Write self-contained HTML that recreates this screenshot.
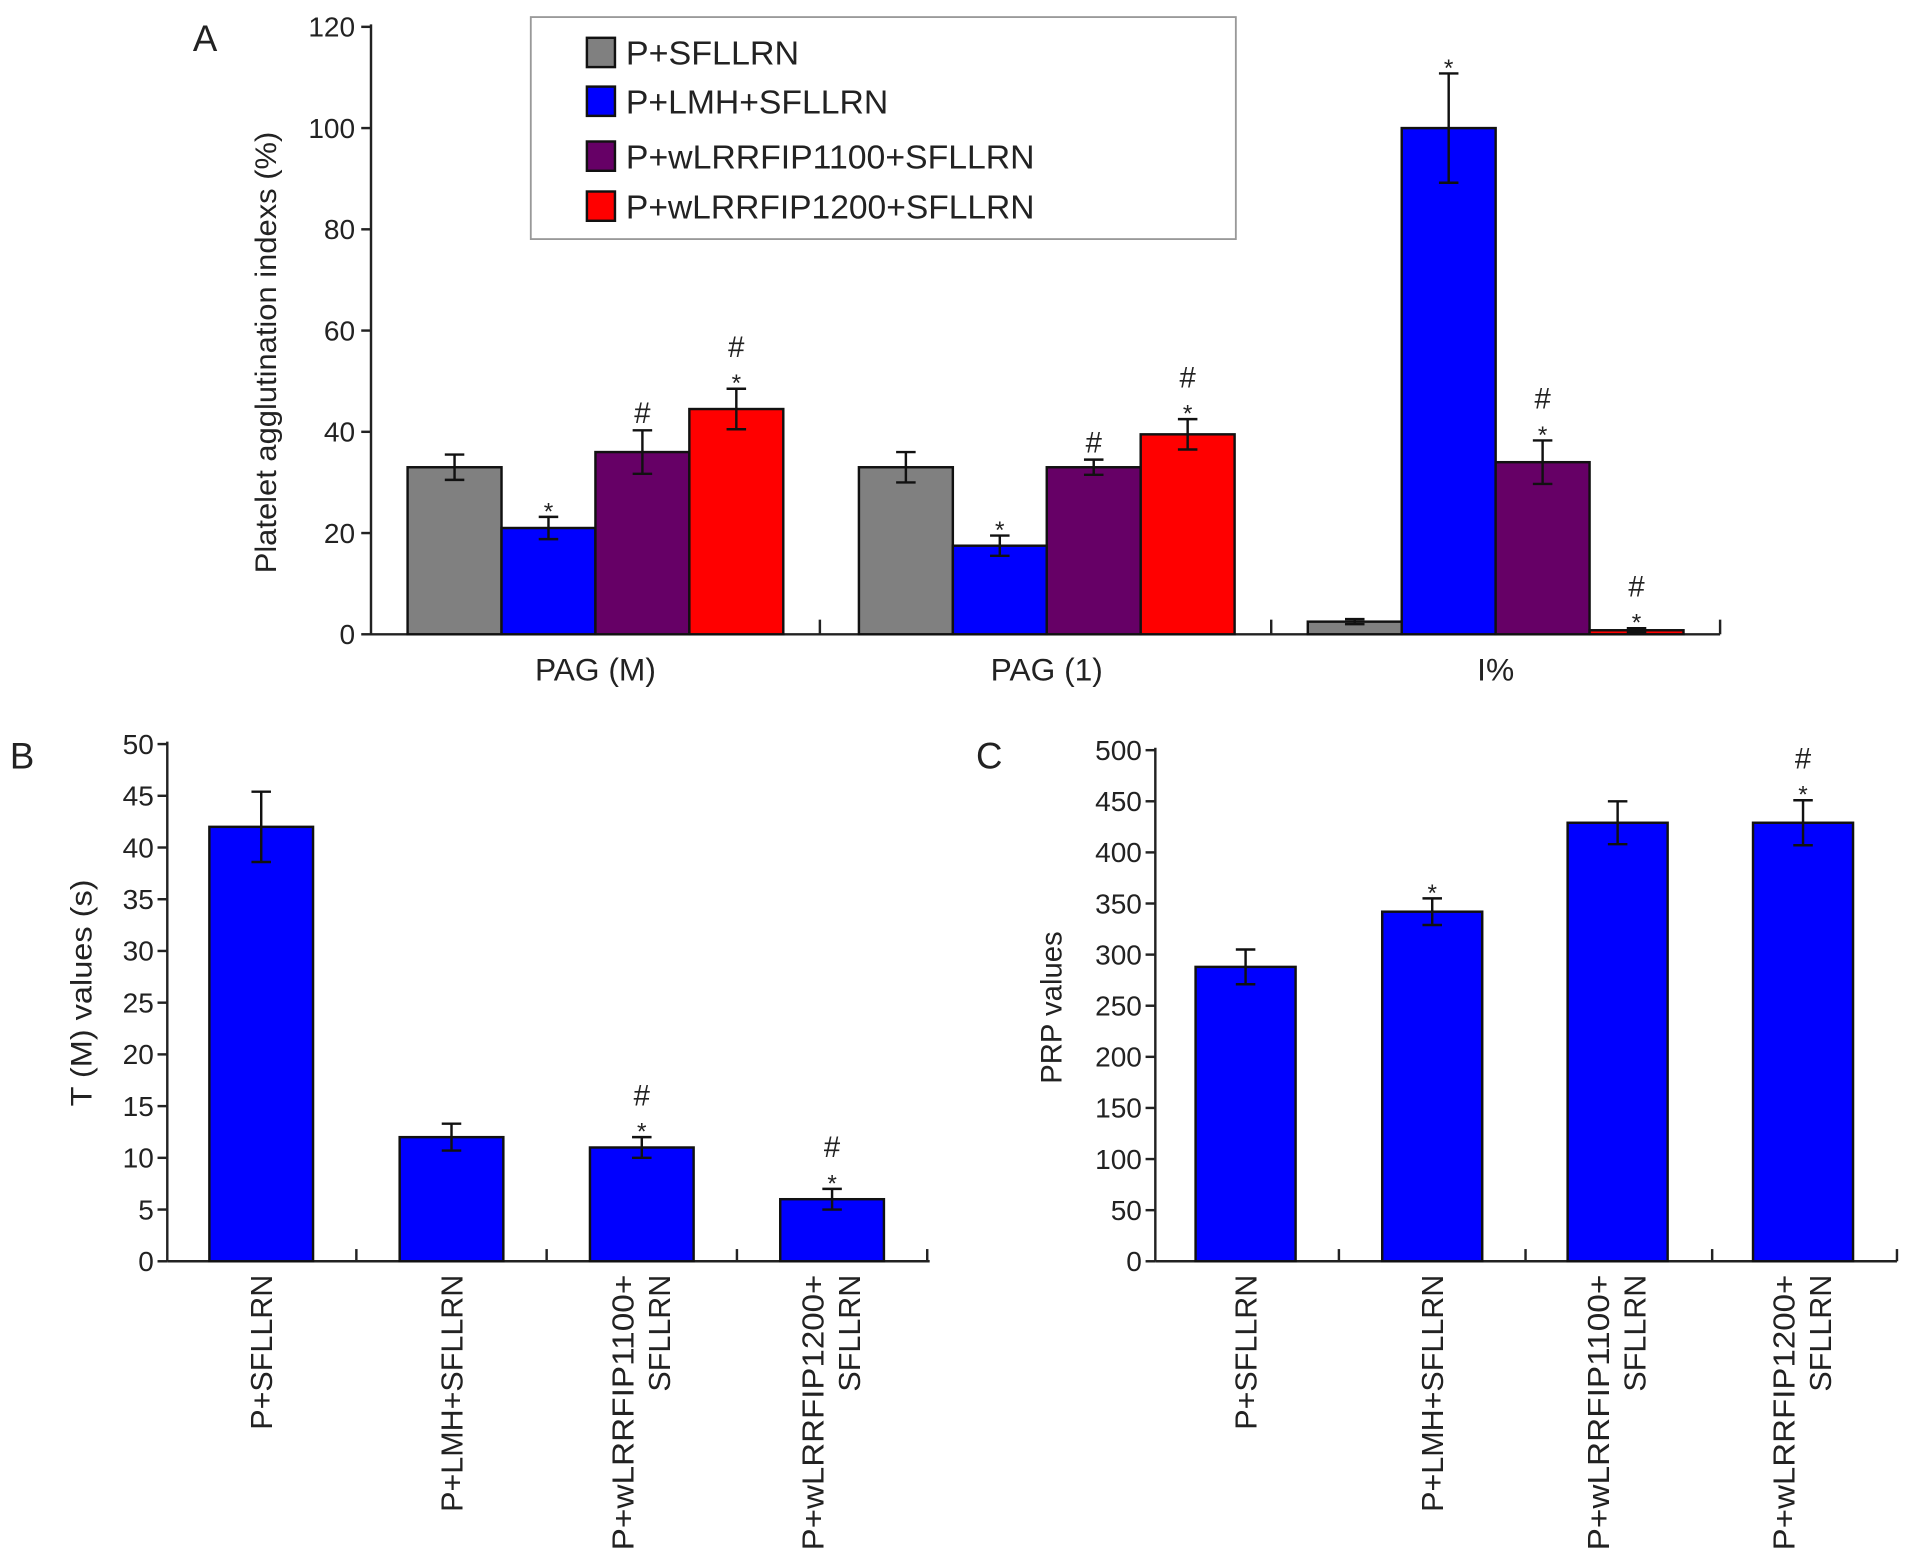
<!DOCTYPE html>
<html><head><meta charset="utf-8"><style>html,body{margin:0;padding:0;background:#fff}svg{display:block}text{font-family:"Liberation Sans",sans-serif;fill:#222}</style></head>
<body>
<svg id="fig" width="1913" height="1565" viewBox="0 0 1568 1283" xmlns="http://www.w3.org/2000/svg"></svg>
<script>
// Panel A data
const aGroups = ["PAG (M)", "PAG (1)", "I%"];
const aSeries = ["P+SFLLRN", "P+LMH+SFLLRN", "P+wLRRFIP1100+SFLLRN", "P+wLRRFIP1200+SFLLRN"];
const aValues = [[33, 21, 36, 44.5], [33, 17.5, 33, 39.5], [2.5, 100, 34, 0.8]];
const aErrors = [[2.5, 2.2, 4.3, 4], [3, 2, 1.5, 3], [0.5, 10.8, 4.3, 0.4]];
const aMarks = [["", "*", "#", "#*"], ["", "*", "#", "#*"], ["", "*", "#*", "#*"]];
const aTicks = [0, 20, 40, 60, 80, 100, 120];
// Panel B data
const bCats = [["P+SFLLRN"], ["P+LMH+SFLLRN"], ["P+wLRRFIP1100+", "SFLLRN"], ["P+wLRRFIP1200+", "SFLLRN"]];
const bValues = [42, 12, 11, 6];
const bErrors = [3.4, 1.3, 1, 1];
const bMarks = ["", "", "#*", "#*"];
const bTicks = [0, 5, 10, 15, 20, 25, 30, 35, 40, 45, 50];
// Panel C data
const cValues = [288, 342, 429, 429];
const cErrors = [17, 13, 21, 22];
const cMarks = ["", "*", "", "#*"];
const cTicks = [0, 50, 100, 150, 200, 250, 300, 350, 400, 450, 500];

const colors = ["#808080", "#0000ff", "#660066", "#ff0000"];
const legLen = [142, 215, 335, 335];
const NS = "http://www.w3.org/2000/svg";
const svg = document.getElementById("fig");
function mk(tag, attrs, parent, txt) {
  const e = document.createElementNS(NS, tag);
  for (const k in attrs) e.setAttribute(k, attrs[k]);
  if (txt !== undefined) e.textContent = txt;
  (parent || svg).appendChild(e);
  return e;
}
function marks(str, cx, ytop, g) {
  let y = ytop;
  if (str.includes("*")) {
    const s = mk("text", {x: cx, y: y + 2, "font-size": 20, "text-anchor": "middle"}, g, "*");
    
    
    y -= 20;
  }
  if (str.includes("#")) {
    const h = mk("text", {x: cx, y: y - 6, "font-size": 24, "text-anchor": "middle"}, g, "#");
    
    
  }
}
function errbar(cx, yHi, yLo, g) {
  const e = mk("path", {d: `M${cx},${yHi}V${yLo}M${cx-8},${yHi}H${cx+8}M${cx-8},${yLo}H${cx+8}`, stroke: "#111", "stroke-width": 2, fill: "none"}, g);
  
  
}
function yAxis(x0, yBase, yTop, ticks, max, g, labX) {
  const ys = v => yBase - (yBase - yTop) * v / max;
  mk("line", {x1: x0, y1: yTop - 2, x2: x0, y2: yBase, stroke: "#222", "stroke-width": 2}, g);
  ticks.forEach(t => {
    mk("line", {x1: x0 - 8, y1: ys(t), x2: x0, y2: ys(t), stroke: "#222", "stroke-width": 2}, g);
    const l = mk("text", {x: labX, y: ys(t) + 8, "font-size": 23, "text-anchor": "end"}, g, t);
    
    
  });
  return ys;
}

// ---- Panel A ----
const gA = mk("g", {});


const lblA = mk("text", {x: 158, y: 42, "font-size": 30}, gA, "A");


const ysA = yAxis(304, 520, 22, aTicks, 120, gA, 291);
mk("line", {x1: 304, y1: 520, x2: 1410, y2: 520, stroke: "#222", "stroke-width": 2}, gA);
[672, 1042, 1410].forEach(x => mk("line", {x1: x, y1: 508, x2: x, y2: 520, stroke: "#222", "stroke-width": 2}, gA));
const ytA = mk("text", {transform: "translate(226,289) rotate(-90)", "font-size": 24, "text-anchor": "middle", textLength: 362, lengthAdjust: "spacingAndGlyphs"}, gA, "Platelet agglutination indexs (%)");


const groupW = 370, bw = 77;
aGroups.forEach((grp, gi) => {
  const gc = 488 + gi * groupW - (gi === 2 ? 2 : 0);
  const xl = mk("text", {x: gc, y: 558, "font-size": 26, "text-anchor": "middle"}, gA, grp);
  
  
  aValues[gi].forEach((v, si) => {
    const x = gc - 2 * bw + si * bw;
    const cx = x + bw / 2;
    const r = mk("rect", {x: x, y: ysA(v), width: bw, height: 520 - ysA(v), fill: colors[si], stroke: "#111", "stroke-width": 2}, gA);
    
    
    const e = aErrors[gi][si];
    errbar(cx, ysA(v + e), ysA(Math.max(v - e, 0)), gA);
    marks(aMarks[gi][si], cx, ysA(v + e), gA);
  });
});
// legend
const leg = mk("g", {}, gA);


mk("rect", {x: 435, y: 14, width: 578, height: 182, fill: "#fff", stroke: "#999", "stroke-width": 1.5}, leg);
const legY = [43, 83, 128, 169];
aSeries.forEach((s, i) => {
  const it = mk("g", {}, leg);
  
  
  mk("rect", {x: 481, y: legY[i] - 12, width: 23, height: 24, fill: colors[i], stroke: "#111", "stroke-width": 2}, it);
  mk("text", {x: 513, y: legY[i] + 10, "font-size": 27, textLength: legLen[i], lengthAdjust: "spacingAndGlyphs"}, it, s);
});

// ---- Panels B & C ----
function panelBC(name, letter, lx, x0, xEnd, yTop, ticks, max, vals, errs, mks, centers, bwid, ytitle, ytx, ytLen, ytY, labX) {
  const g = mk("g", {});
  
  
  const pl = mk("text", {x: lx, y: 630, "font-size": 30}, g, letter);
  
  
  const ys = yAxis(x0, 1034, yTop, ticks, max, g, labX);
  mk("line", {x1: x0, y1: 1034, x2: xEnd, y2: 1034, stroke: "#222", "stroke-width": 2}, g);
  const step = centers[1] - centers[0];
  for (let i = 1; i <= 4; i++) {
    const x = centers[0] - step / 2 + i * step;
    mk("line", {x1: Math.min(x, xEnd), y1: 1024, x2: Math.min(x, xEnd), y2: 1034, stroke: "#222", "stroke-width": 2}, g);
  }
  const yt = mk("text", {transform: `translate(${ytx},${ytY}) rotate(-90)`, "font-size": 24, "text-anchor": "middle", textLength: ytLen, lengthAdjust: "spacingAndGlyphs"}, g, ytitle);
  
  
  vals.forEach((v, i) => {
    const cx = centers[i];
    const r = mk("rect", {x: cx - bwid / 2, y: ys(v), width: bwid, height: 1034 - ys(v), fill: "#0000ff", stroke: "#111", "stroke-width": 2}, g);
    
    
    errbar(cx, ys(v + errs[i]), ys(v - errs[i]), g);
    marks(mks[i], cx, ys(v + errs[i]), g);
    const lines = bCats[i];
    lines.forEach((ln, li) => {
      const off = lines.length === 2 ? (li === 0 ? -16 : 14) : 0;
      const attrs = {transform: `translate(${cx + off + 9},1045) rotate(-90)`, "font-size": 25, "text-anchor": "end"};
      if (ln.length > 12) { attrs.textLength = 226; attrs.lengthAdjust = "spacingAndGlyphs"; }
      const t = mk("text", attrs, g, ln);
      
      
    });
  });
}
panelBC("panel-b", "B", 8, 137, 762, 610, bTicks, 50, bValues, bErrors, bMarks, [214, 370, 526, 682], 85, "T (M) values (s)", 75, 186, 814, 126);
panelBC("panel-c", "C", 800, 947, 1555, 615, cTicks, 500, cValues, cErrors, cMarks, [1021, 1174, 1326, 1478], 82, "PRP values", 870, 125, 826, 936);
</script>
</body></html>
